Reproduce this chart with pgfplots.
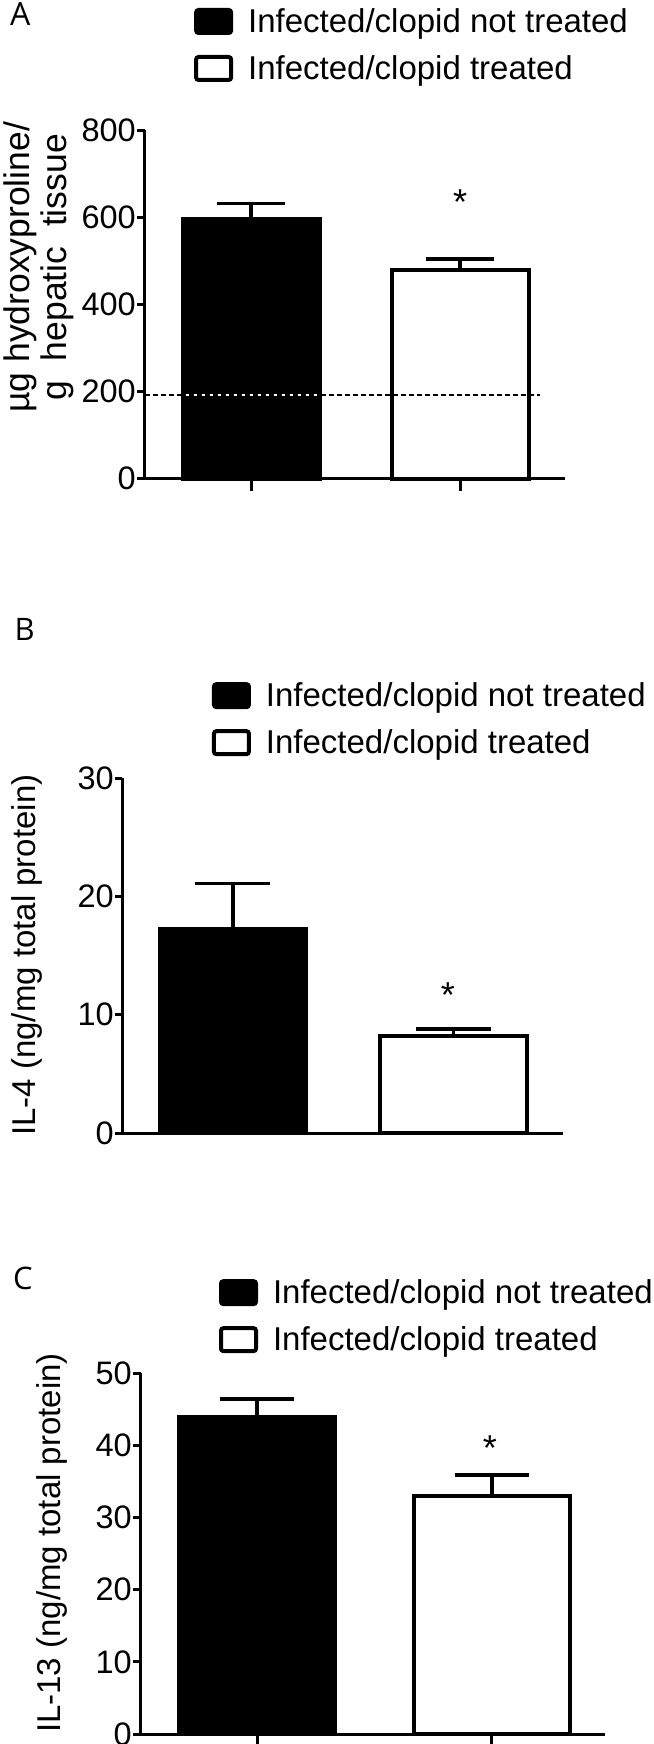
\documentclass[border=0pt]{standalone}
\usepackage{fontspec}
\setmainfont{Liberation Sans}
\newfontfamily\letterfont{Open Sans}
\usepackage{pgfplots}
\pgfplotsset{compat=1.18}

\newcommand{\bigfont}{\fontsize{33}{37}\selectfont}

\pgfplotsset{
  panel/.style={
    scale only axis,
    axis x line=bottom, axis y line=left,
    axis line style={-, line width=3pt, black},
    ymin=0,
    tick align=outside,
    major tick length=7pt,
    tick style={line width=3pt, black},
    xtick style={/pgfplots/major tick length=12pt},
    xticklabels={},
    /pgf/number format/assume math mode=true,
    tick label style={font=\fontsize{32.5}{36}\selectfont},
    yticklabel style={inner sep=1.5pt},
    label style={font=\bigfont},
    legend style={draw=none, fill=none, inner sep=0pt, outer sep=0pt,
      anchor=north west, row sep=20pt, column sep=15pt,
      font=\bigfont, nodes={inner sep=0pt}},
    legend cell align=left,
    clip=false,
  },
  blackbar/.style={ybar, bar shift=0pt, fill=black, draw=black, line width=4pt,
    legend image code/.code={\draw[line width=4pt, fill=black, draw=black, rounded corners=2.5pt] (0pt,-11.5pt) rectangle (35pt,11.5pt);}},
  whitebar/.style={ybar, bar shift=0pt, fill=white, draw=black, line width=4pt,
    legend image code/.code={\draw[line width=4pt, fill=white, draw=black, rounded corners=2.5pt] (0pt,-11.5pt) rectangle (35pt,11.5pt);}},
  errstyle/.style={error bars/.cd, y dir=plus, y explicit,
    error mark=|,
    error bar style={line width=3.5pt, black},
    error mark options={line width=3.5pt, black, mark size=#1}},
}

\begin{document}
\begin{tikzpicture}[x=1pt,y=1pt]
\useasboundingbox (0,0) rectangle (653,-1744);

% Panel letters
\node[anchor=base west, inner sep=0pt, font=\letterfont\fontsize{32}{36}\selectfont] at (10,-26) {A};
\node[anchor=base west, inner sep=0pt, font=\letterfont\fontsize{31}{36}\selectfont] at (14.5,-640) {B};
\node[anchor=base west, inner sep=0pt, font=\letterfont\fontsize{31}{36}\selectfont] at (13,-1289) {C};

% ---------- Panel A ----------
\begin{axis}[panel,
  at={(144.5pt,-478.6pt)}, anchor=south west,
  width=420.5pt, height=348.6pt,
  xmin=-0.51, xmax=1.502, ymax=800,
  ytick={0,200,400,600,800}, xtick={0,1},
  ylabel={µg hydroxyproline/\\g\ \ hepatic\ \ tissue},
  ylabel style={at={(axis description cs:-0.252,0.606)}, anchor=center, align=center, font=\fontsize{35.5}{37}\selectfont},
  legend style={at={(axis description cs:0.118,1.35)}},
]
\addplot[blackbar, bar width=0.656, errstyle=34pt] coordinates {(0,595) +- (0,36)};
\addlegendentry{Infected/clopid not treated}
\addplot[whitebar, bar width=0.656, errstyle=34pt] coordinates {(1,478) +- (0,26)};
\addlegendentry{Infected/clopid treated}
\addplot[black, line width=1.5pt, dash pattern=on 5pt off 3pt, forget plot] coordinates {(-0.51,192) (1.383,192)};
\addplot[white, line width=1.5pt, dash pattern=on 3pt off 5pt, dash phase=5pt, forget plot] coordinates {(-0.326,192) (0.326,192)};
\node[anchor=base, font=\fontsize{36}{40}\selectfont] at (axis cs:1,606) {*};
\end{axis}

% ---------- Panel B ----------
\begin{axis}[panel,
  at={(122.5pt,-1133pt)}, anchor=south west,
  width=440.5pt, height=355pt,
  xmin=-0.501, xmax=1.497, ymax=30,
  ytick={0,10,20,30}, xtick=\empty,
  ylabel={IL-4 (ng/mg total protein)},
  ylabel style={at={(axis description cs:-0.217,0.501)}, anchor=center},
  legend style={at={(axis description cs:0.203,1.27)}},
]
\addplot[blackbar, bar width=0.664, errstyle=37.5pt] coordinates {(0,17.25) +- (0,3.85)};
\addlegendentry{Infected/clopid not treated}
\addplot[whitebar, bar width=0.664, errstyle=37.5pt] coordinates {(1,8.2) +- (0,0.6)};
\addlegendentry{Infected/clopid treated}
\node[anchor=base, font=\fontsize{36}{40}\selectfont] at (axis cs:0.975,10.6) {*};
\end{axis}

% ---------- Panel C ----------
\begin{axis}[panel,
  at={(140.5pt,-1734pt)}, anchor=south west,
  width=464.5pt, height=361pt,
  xmin=-0.497, xmax=1.482, ymax=50,
  ytick={0,10,20,30,40,50}, xtick={0,1},
  ylabel={IL-13 (ng/mg total protein)},
  ylabel style={at={(axis description cs:-0.1905,0.529)}, anchor=center},
  legend style={at={(axis description cs:0.169,1.26)}},
]
\addplot[blackbar, bar width=0.667, errstyle=37pt] coordinates {(0,43.9) +- (0,2.5)};
\addlegendentry{Infected/clopid not treated}
\addplot[whitebar, bar width=0.667, errstyle=37pt] coordinates {(1,33.0) +- (0,2.9)};
\addlegendentry{Infected/clopid treated}
\node[anchor=base, font=\fontsize{36}{40}\selectfont] at (axis cs:0.991,37.95) {*};
\end{axis}
\end{tikzpicture}
\end{document}
